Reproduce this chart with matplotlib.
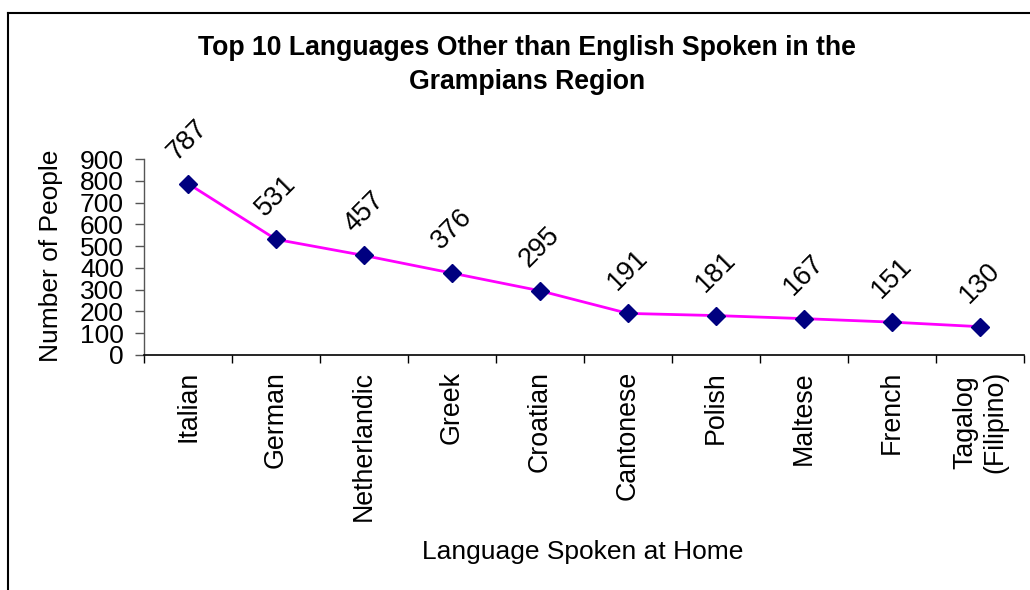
import matplotlib
matplotlib.use("Agg")
import matplotlib.pyplot as plt
from matplotlib.lines import Line2D
import numpy as np

languages = ["Italian", "German", "Netherlandic", "Greek", "Croatian",
             "Cantonese", "Polish", "Maltese", "French", "Tagalog\n(Filipino)"]
people = [787, 531, 457, 376, 295, 191, 181, 167, 151, 130]
y_ticks = list(range(0, 1000, 100))

title_line1 = "Top 10 Languages Other than English Spoken in the"
title_line2 = "Grampians Region"
x_label = "Language Spoken at Home"
y_label = "Number of People"

plt.rcParams['font.family'] = ['Liberation Sans', 'DejaVu Sans']

W, H = 1030, 590
fig = plt.figure(figsize=(W / 100, H / 100), dpi=100)
fig.patch.set_facecolor("white")

def fx(px):
    return px / W

def fy(py):
    return 1 - py / H

ax = fig.add_axes([fx(144), fy(355), fx(1024) - fx(144), fy(159) - fy(355)])

x = np.arange(len(languages))
ax.plot(x, people, color="#FF00FF", linewidth=2.0, zorder=2)
ax.plot(x, people, linestyle="none", marker="D", markersize=9.5,
        markerfacecolor="#000080", markeredgecolor="#000080", zorder=3)

for xi, v in zip(x, people):
    ax.annotate(str(v), (xi, v), xytext=(0, 31.5), textcoords="offset points",
                ha="center", va="center", rotation=45, fontsize=19.5,
                color="black")

ax.set_xlim(-0.5, len(languages) - 0.5)
ax.set_ylim(0, 900)

ax.set_yticks(y_ticks)
ax.set_yticklabels([str(t) for t in y_ticks], fontsize=19)
ax.tick_params(axis="y", direction="out", length=6.5, width=1, color="#555555", pad=8)

ax.set_xticks(x)
ax.set_xticklabels(languages, rotation=90, fontsize=19.3, va="top", ha="center",
                   multialignment="center")
ax.tick_params(axis="x", which="major", length=0, pad=11.5)
ax.set_xticks(np.arange(-0.5, len(languages), 1.0), minor=True)
ax.tick_params(axis="x", which="minor", direction="out", length=5.8, width=1, color="black")

for s in ["top", "right"]:
    ax.spines[s].set_visible(False)
ax.spines["left"].set_color("#555555")
ax.spines["bottom"].set_color("black")
ax.spines["left"].set_linewidth(1)
ax.spines["bottom"].set_linewidth(1.2)

# Titles and axis labels
fig.text(fx(527), fy(55), title_line1, ha="center", va="baseline",
         fontsize=19.2, fontweight="bold")
fig.text(fx(527), fy(89), title_line2, ha="center", va="baseline",
         fontsize=19.2, fontweight="bold")
fig.text(fx(583), fy(559), x_label, ha="center", va="baseline", fontsize=19)
fig.text(fx(51), fy(256), y_label, ha="center", va="center", rotation=90, fontsize=19)

# Outer frame (left and top edges)
fig.add_artist(Line2D([fx(8), fx(8)], [fy(13), 0], transform=fig.transFigure,
                      color="black", linewidth=1.5))
fig.add_artist(Line2D([fx(8), 1], [fy(13), fy(13)], transform=fig.transFigure,
                      color="black", linewidth=1.5))

fig.savefig("out.png", dpi=100, facecolor="white")
